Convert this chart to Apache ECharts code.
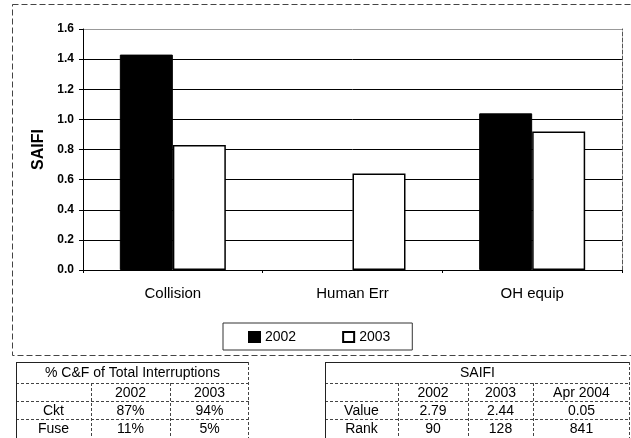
<!DOCTYPE html>
<html>
<head>
<meta charset="UTF-8">
<title>SAIFI</title>
<script src="https://cdn.jsdelivr.net/npm/echarts@6/dist/echarts.min.js"></script>
<style>
  body { margin: 0; background: #fff; }
  #chart { width: 631px; height: 438px; }
</style>
</head>
<body>
<div id="chart"></div>
<script>
  // chart data
  const categories = ['Collision', 'Human Err', 'OH equip'];
  const years = ['2002', '2003'];
  const saifi2002 = [1.43, null, 1.04];
  const saifi2003 = [0.83, 0.64, 0.92];
  const yMin = 0, yMax = 1.6, yStep = 0.2;

  // tables under the chart
  const cfTitle = '% C&F of Total Interruptions';
  const cfHeader = ['', '2002', '2003'];
  const cfRows = [['Ckt', '87%', '94%'], ['Fuse', '11%', '5%']];
  const saifiTitle = 'SAIFI';
  const saifiHeader = ['', '2002', '2003', 'Apr 2004'];
  const saifiRows = [['Value', '2.79', '2.44', '0.05'], ['Rank', '90', '128', '841']];

  const font = '"Liberation Sans", Arial, sans-serif';

  // build a boxed table out of lines and texts
  function makeTable(cols, rowsY, title, header, rows) {
    const els = [];
    const x0 = cols[0], x1 = cols[cols.length - 1];
    const yEnd = rowsY[rowsY.length - 1];
    const solid = { stroke: '#222', lineWidth: 1 };
    const dash = { stroke: '#444', lineWidth: 1, lineDash: [3, 2] };
    rowsY.forEach((y, i) => {
      els.push({ type: 'line', shape: { x1: x0, y1: y + 0.5, x2: x1, y2: y + 0.5 }, style: i === 0 ? solid : dash });
    });
    els.push({ type: 'line', shape: { x1: x0 + 0.5, y1: rowsY[0], x2: x0 + 0.5, y2: yEnd }, style: solid });
    els.push({ type: 'line', shape: { x1: x1 - 0.5, y1: rowsY[0], x2: x1 - 0.5, y2: yEnd }, style: dash });
    for (let c = 1; c < cols.length - 1; c++) {
      els.push({ type: 'line', shape: { x1: cols[c] + 0.5, y1: rowsY[1], x2: cols[c] + 0.5, y2: yEnd }, style: dash });
    }
    const txt = (x, y, s) => ({
      type: 'text', x: x, y: y,
      style: { text: s, fill: '#000', font: '14px ' + font, textAlign: 'center', textVerticalAlign: 'middle' }
    });
    els.push(txt((x0 + x1) / 2, (rowsY[0] + rowsY[1]) / 2 + 1, title));
    [header].concat(rows).forEach((row, r) => {
      row.forEach((s, c) => {
        if (s) els.push(txt((cols[c] + cols[c + 1]) / 2, (rowsY[r + 1] + rowsY[r + 2]) / 2 + 1, s));
      });
    });
    return els;
  }

  const rowY = [362, 383, 401, 419, 438];
  const graphics = [
    { type: 'rect', shape: { x: 12.5, y: 4.5, width: 640, height: 351 }, style: { fill: 'none', stroke: '#444', lineWidth: 1, lineDash: [6, 3] } }
  ].concat(
    makeTable([16, 91, 170, 249], rowY, cfTitle, cfHeader, cfRows),
    makeTable([325, 398, 468, 533, 630], rowY, saifiTitle, saifiHeader, saifiRows)
  );

  const splitColors = [];
  for (let v = yMin; v <= yMax + 1e-9; v += yStep) splitColors.push('#000');
  splitColors[splitColors.length - 1] = '#999';

  const chart = echarts.init(document.getElementById('chart'));
  chart.setOption({
    animation: false,
    textStyle: { fontFamily: font },
    grid: { left: 83, right: 9, top: 29, bottom: 168, containLabel: false },
    legend: {
      data: years,
      left: 223, top: 323,
      icon: 'rect', itemWidth: 11, itemHeight: 10, itemGap: 46,
      padding: [7, 22, 6, 25],
      borderColor: '#333', borderWidth: 1,
      textStyle: { fontSize: 14, color: '#000', fontFamily: font }
    },
    xAxis: {
      type: 'category',
      data: categories,
      axisLine: { lineStyle: { color: '#000', width: 1 } },
      axisTick: { show: true, length: 3, lineStyle: { color: '#000' } },
      axisLabel: { margin: 16, fontSize: 15, color: '#000', fontFamily: font }
    },
    yAxis: [{
      type: 'value',
      min: yMin, max: yMax, interval: yStep,
      name: 'SAIFI', nameLocation: 'middle', nameGap: 36,
      nameTextStyle: { fontSize: 16, fontWeight: 'bold', color: '#000', fontFamily: font },
      axisLine: { show: true, lineStyle: { color: '#000', width: 1 } },
      axisTick: { show: true, length: 4, lineStyle: { color: '#000' } },
      axisLabel: { margin: 9, fontSize: 12, fontWeight: 'bold', color: '#000', fontFamily: font, formatter: v => v.toFixed(1) },
      splitLine: { show: true, lineStyle: { color: splitColors, width: 1 } }
    }, {
      type: 'value',
      position: 'right',
      min: yMin, max: yMax, interval: yStep,
      axisLine: { show: true, lineStyle: { color: '#555', type: 'dashed', width: 1 } },
      axisTick: { show: false }, axisLabel: { show: false }, splitLine: { show: false }
    }],
    series: [{
      name: years[0], type: 'bar', data: saifi2002,
      barGap: '0%', barCategoryGap: '41%',
      itemStyle: { color: '#000', borderColor: '#000', borderWidth: 1 }
    }, {
      name: years[1], type: 'bar', data: saifi2003,
      itemStyle: { color: '#fff', borderColor: '#000', borderWidth: 1.5 }
    }],
    graphic: graphics
  });
</script>
</body>
</html>
